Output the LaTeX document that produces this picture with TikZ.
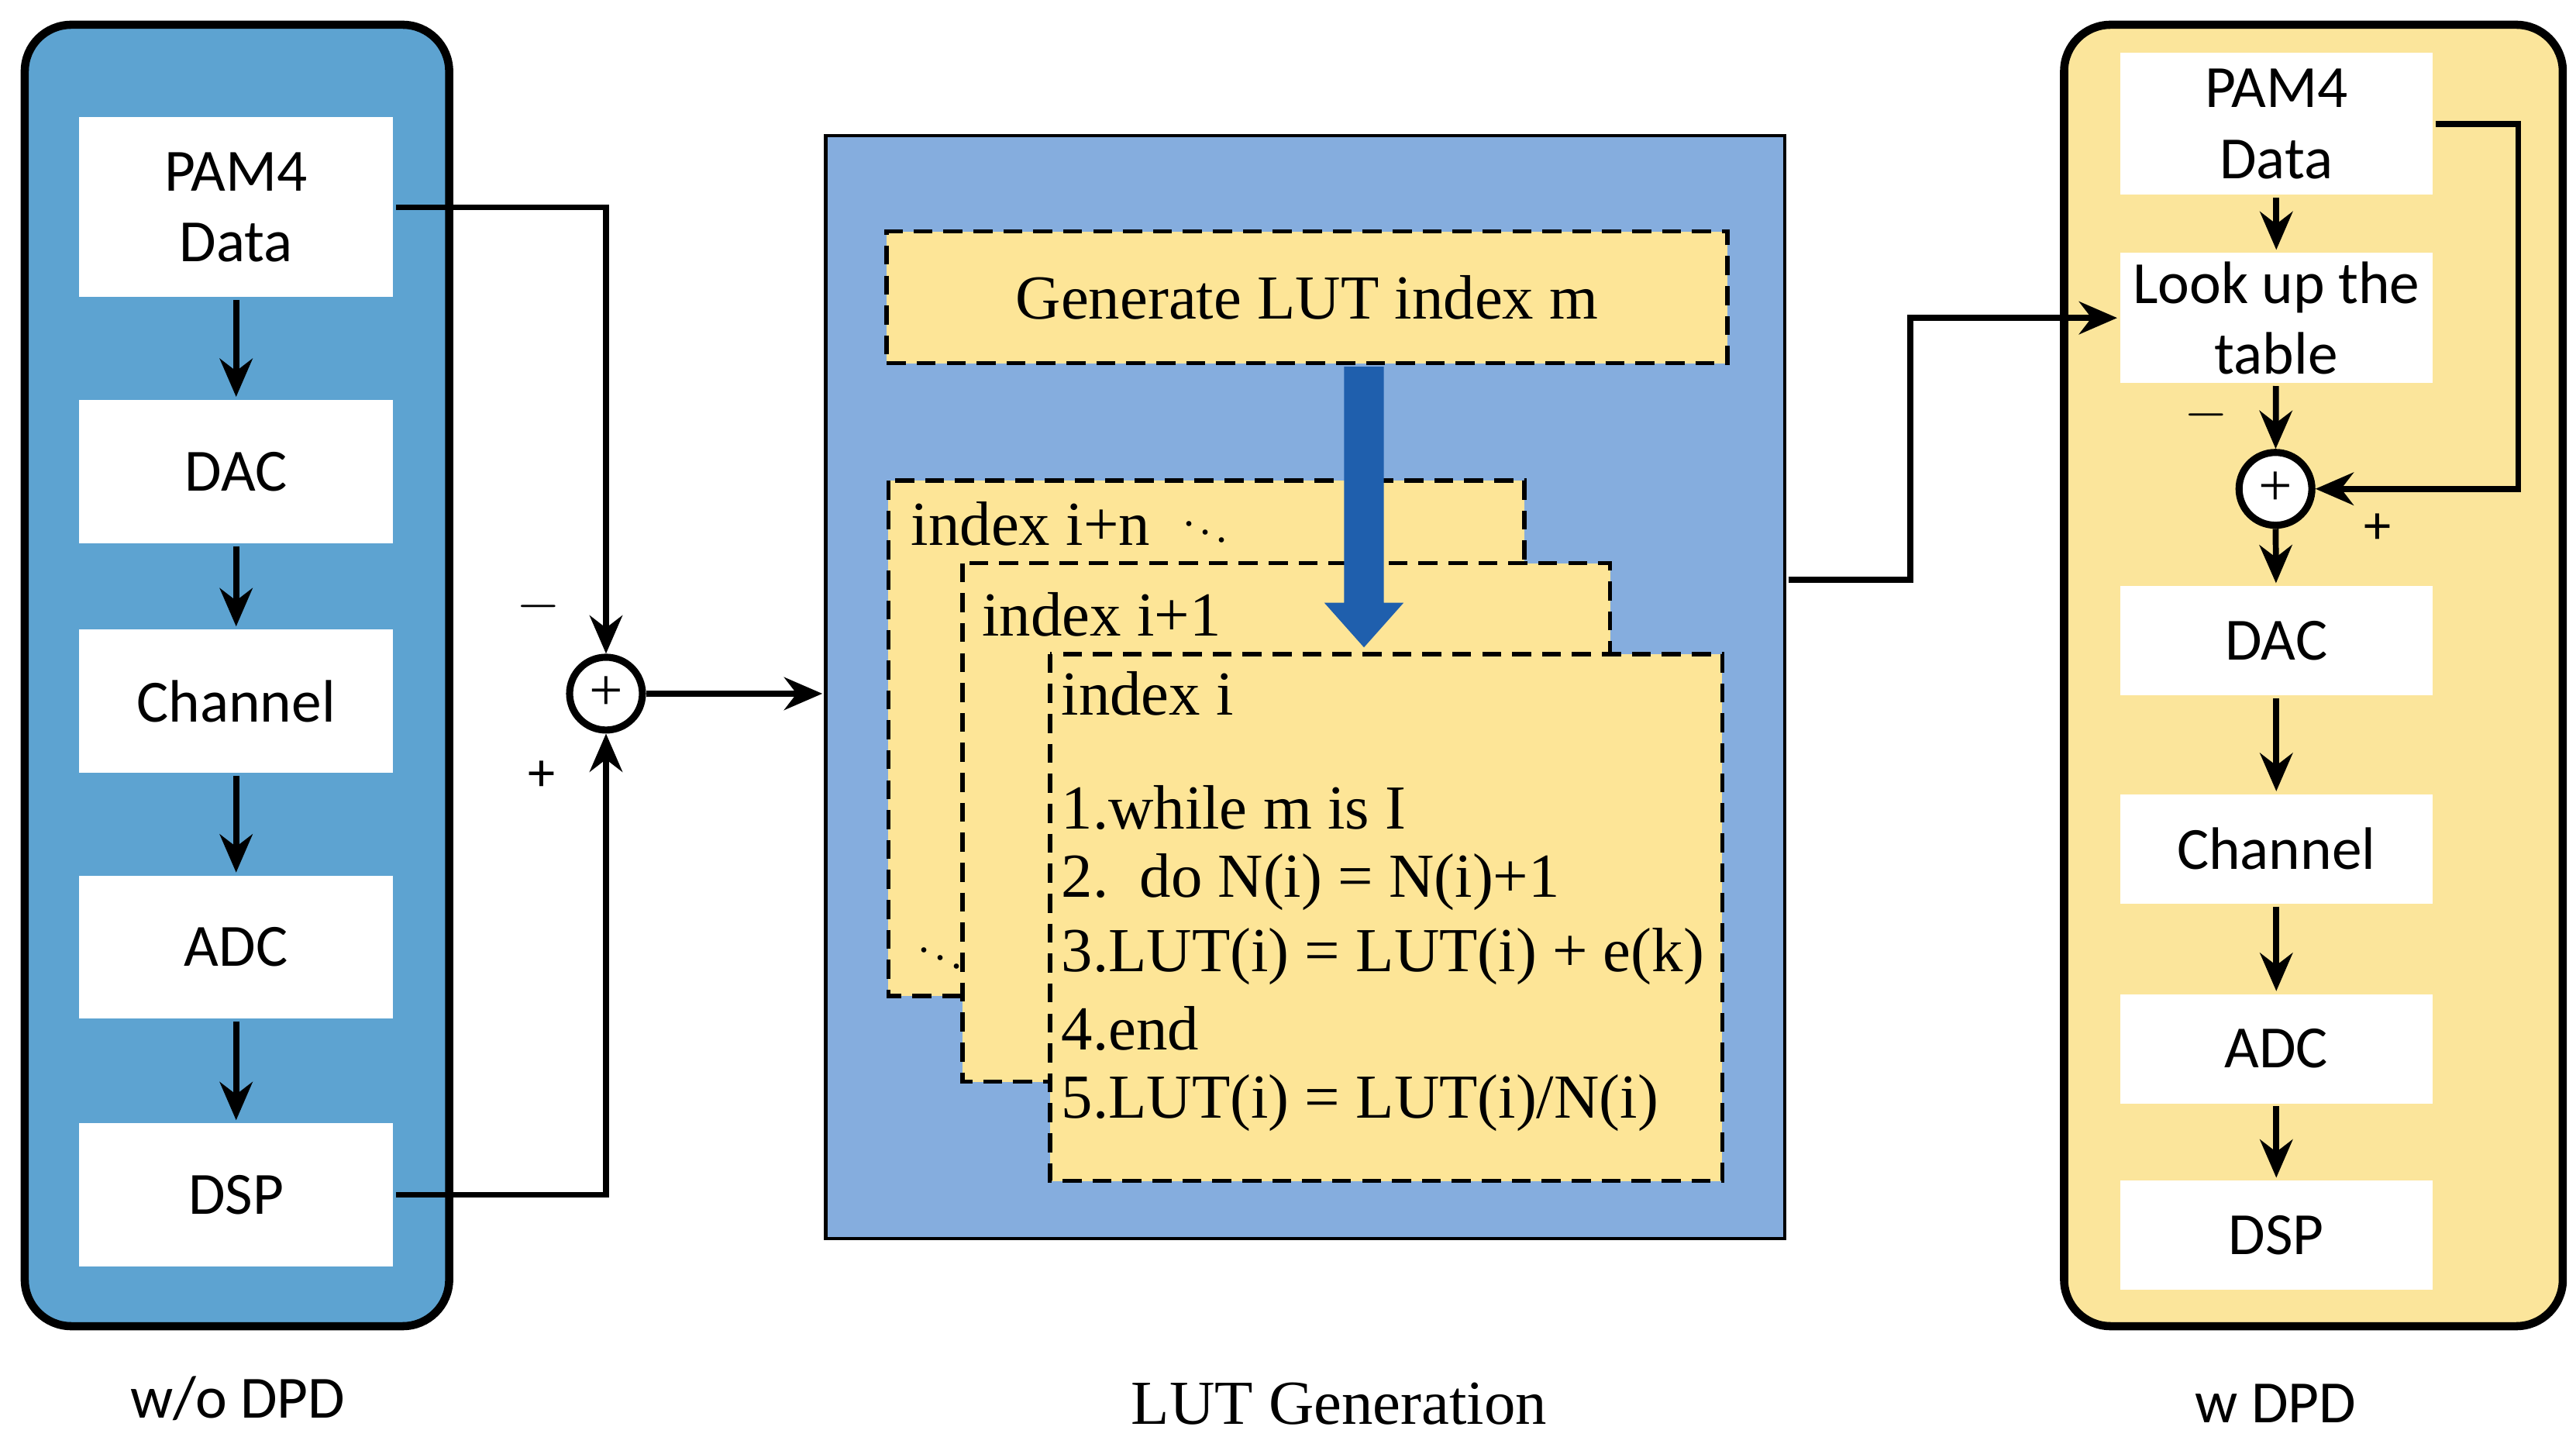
\documentclass[tikz,border=0pt]{standalone}
\usepackage{fontspec}
\setmainfont{Liberation Serif}
\newfontfamily\lblfont{Carlito}
\usetikzlibrary{arrows.meta}
\definecolor{wodpd}{HTML}{5DA3D1}
\definecolor{lutbg}{HTML}{85ADDE}
\definecolor{paper}{HTML}{FDE597}
\definecolor{wdpd}{HTML}{FBE59B}
\definecolor{bigarrow}{HTML}{1F5FAD}
\begin{document}
\begin{tikzpicture}[x=0.02131cm,y=-0.02131cm,
    line width=2.2pt,
    flow/.style={-{Stealth[length=14pt,width=12pt]}},
    blk/.style={fill=white,draw=none,minimum width=4.05cm,align=center,
      font=\lblfont\fontsize{22}{26}\selectfont},
    sumnode/.style={circle,draw,fill=white,line width=2.6pt,minimum size=0.94cm,inner sep=0pt,
      font=\fontsize{22}{22}\selectfont},
    sign/.style={font=\lblfont\fontsize{20}{20}\selectfont},
    page/.style={fill=paper,draw,dash pattern=on 7pt off 4pt,line width=1.6pt},
    code/.style={anchor=west,inner sep=0pt,font=\fontsize{23}{28}\selectfont}]
                  % Frame
                  \useasboundingbox (0,0) rectangle (1560,870);

                  % Panels
                  \draw[fill=wodpd,line width=3pt,rounded corners=0.6cm] (15,15) rectangle (272,803);
                  \draw[fill=lutbg,line width=1.2pt] (500,82) rectangle (1081,750);
                  \draw[fill=wdpd,line width=3pt,rounded corners=0.6cm] (1250,15) rectangle (1552,803);

                  % Left chain (w/o DPD)
                  \node[blk,minimum height=2.32cm] (lpam) at (143,125.5) {PAM4\\Data};
                  \node[blk,minimum height=1.85cm] (ldac) at (143,285.5) {DAC};
                  \node[blk,minimum height=1.85cm] (lch) at (143,424.5) {Channel};
                  \node[blk,minimum height=1.85cm] (ladc) at (143,573.5) {ADC};
                  \node[blk,minimum height=1.85cm] (ldsp) at (143,723.5) {DSP};
                  \draw[flow] (lpam) -- (ldac);
                  \draw[flow] (ldac) -- (lch);
                  \draw[flow] (lch) -- (ladc);
                  \draw[flow] (ladc) -- (ldsp);

                  % Error sum
                  \node[sumnode] (lsum) at (367,420) {+};
                  \draw[flow] (lpam.east) -| (lsum.north);
                  \draw[flow] (ldsp.east) -| (lsum.south);
                  \node[sign] (lminus) at (326,367) {$-$};
                  \node[sign] (lplus) at (328,470) {+};
                  \coordinate (lutin) at (498,420);
                  \draw[flow] (lsum) -- (lutin);

                  % LUT generation
                  \node[page,minimum width=10.85cm,minimum height=1.7cm,
                    font=\fontsize{23}{28}\selectfont] (gen) at (791.5,180) {Generate LUT index m};
                  \filldraw[page] (538,291) rectangle (923,603);
                  \filldraw[page] (583,341) rectangle (975,655);
                  \filldraw[page] (636,396) rectangle (1043,715);
                  \fill[bigarrow] (814,222) -- (838,222) -- (838,365) -- (850,365) -- (826,392)
                    -- (802,365) -- (814,365) -- cycle;
                  \node[code] (tn) at (550,317) {index i+n\enspace{\fontsize{16}{16}\selectfont$\ddots$}};
                  \node[code] (t1) at (593,372) {index i+1};
                  \node[code] (t0) at (641,420) {index i};
                  \node[code,font=\fontsize{16}{16}\selectfont] (dd) at (553,575) {$\ddots$};
                  \node[code] (c1) at (641,489) {1.while m is I};
                  \node[code] (c2) at (641,534) {2.\enspace do N(i) = N(i)+1};
                  \node[code] (c3) at (641,579) {3.LUT(i) = LUT(i) + e(k)};
                  \node[code] (c4) at (641,623) {4.end};
                  \node[code] (c5) at (641,668) {5.LUT(i) = LUT(i)/N(i)};

                  % Right chain (w DPD)
                  \node[blk,minimum width=4.03cm,minimum height=1.83cm] (rpam) at (1378.5,75) {PAM4\\Data};
                  \node[blk,minimum width=4.03cm,minimum height=1.68cm,inner sep=0pt] (rlut) at (1378.5,192.5) {Look up the\\table};
                  \node[sumnode] (rsum) at (1378,296) {+};
                  \node[blk,minimum width=4.03cm,minimum height=1.41cm] (rdac) at (1378.5,388) {DAC};
                  \node[blk,minimum width=4.03cm,minimum height=1.41cm] (rch) at (1378.5,514) {Channel};
                  \node[blk,minimum width=4.03cm,minimum height=1.41cm] (radc) at (1378.5,635) {ADC};
                  \node[blk,minimum width=4.03cm,minimum height=1.41cm] (rdsp) at (1378.5,748) {DSP};
                  \draw[flow] (rpam) -- (rlut);
                  \draw[flow] (rlut) -- (rsum);
                  \draw[flow] (rsum) -- (rdac);
                  \draw[flow] (rdac) -- (rch);
                  \draw[flow] (rch) -- (radc);
                  \draw[flow] (radc) -- (rdsp);
                  \coordinate (rturn) at (1525,75);
                  \draw[flow] (rpam.east) -- (rturn) |- (rsum.east);
                  \node[sign] (rminus) at (1336,251) {$-$};
                  \node[sign] (rplus) at (1440,320) {+};
                  \coordinate (lutout) at (1083,351);
                  \draw[flow] (lutout) -- (1157,351) |- (rlut.west);

                  % Captions
                  \node[font=\lblfont\fontsize{22}{26}\selectfont] (capl) at (144,847) {w/o DPD};
                  \node[font=\fontsize{23}{28}\selectfont] (capm) at (811,850) {LUT Generation};
                  \node[font=\lblfont\fontsize{22}{26}\selectfont] (capr) at (1378,850) {w DPD};

              \end{tikzpicture}
\end{document}
